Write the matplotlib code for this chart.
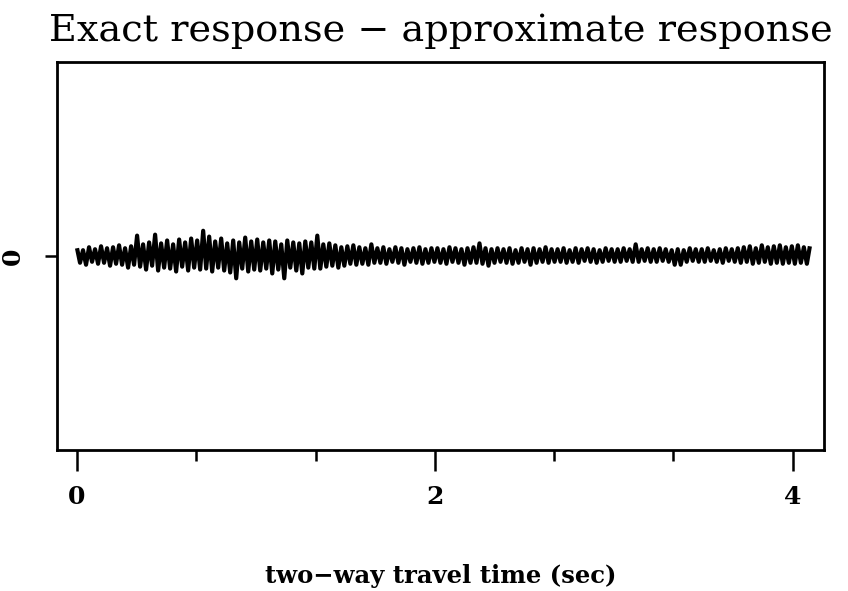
import numpy as np
import matplotlib
matplotlib.use("Agg")
import matplotlib.pyplot as plt
from matplotlib.ticker import MultipleLocator

# residual trace, alternating peaks/troughs, 0 to 4.096 s
residual = [
    0.8, -0.7, 0.6, -0.9, 0.9, -0.6, 0.7, -0.8, 1.0, -0.7, 0.8, -1.0, 0.9, -0.8, 1.1, -0.9, 0.8, -1.2, 1.0, -0.9,
    2.1, -1.1, 1.2, -1.4, 1.4, -1.0, 2.2, -1.5, 1.3, -1.2, 1.6, -1.3, 1.2, -1.6, 1.7, -1.1, 1.4, -1.5, 1.8, -1.2,
    1.6, -1.4, 2.6, -1.3, 2.0, -1.6, 1.5, -1.2, 1.8, -1.5, 1.3, -1.7, 1.6, -2.3, 1.4, -1.3, 1.9, -1.6, 1.5, -1.4,
    1.7, -1.5, 1.4, -1.3, 1.6, -1.8, 1.5, -1.4, 1.2, -2.3, 1.6, -1.2, 1.4, -1.5, 1.3, -1.8, 1.5, -1.2, 1.4, -1.3,
    2.1, -1.3, 1.2, -1.1, 1.3, -1.0, 1.1, -1.2, 0.9, -1.0, 1.0, -0.8, 1.1, -0.9, 0.9, -0.8, 0.8, -0.9, 1.2, -0.7,
    0.8, -0.7, 0.9, -0.8, 0.7, -0.6, 0.9, -0.7, 0.8, -0.9, 0.7, -0.6, 0.8, -0.7, 0.9, -0.8, 0.7, -0.7, 0.8, -0.6,
    0.8, -0.7, 0.7, -0.8, 0.9, -0.6, 0.8, -0.7, 0.7, -0.9, 0.8, -0.7, 0.9, -0.7, 1.3, -0.8, 0.8, -1.0, 0.7, -0.7,
    0.8, -0.6, 0.7, -0.7, 0.8, -0.8, 0.6, -0.7, 0.8, -0.6, 0.7, -0.9, 0.8, -0.7, 0.7, -0.6, 0.9, -0.7, 0.7, -0.6,
    0.7, -0.6, 0.8, -0.7, 0.6, -0.6, 0.8, -0.7, 0.7, -0.5, 0.8, -0.6, 0.7, -0.7, 0.6, -0.6, 0.8, -0.5, 0.7, -0.6,
    0.7, -0.6, 0.8, -0.5, 0.7, -0.6, 1.2, -0.6, 0.7, -0.5, 0.8, -0.6, 0.7, -0.6, 0.8, -0.5, 0.7, -0.6, 0.6, -0.9,
    0.7, -0.9, 0.6, -0.6, 0.8, -0.5, 0.7, -0.6, 0.7, -0.6, 0.8, -0.5, 0.6, -0.6, 0.7, -0.7, 0.8, -0.5, 0.7, -0.6,
    0.8, -0.7, 0.9, -0.6, 1.0, -0.8, 0.8, -0.7, 1.1, -0.6, 0.9, -0.8, 1.0, -0.7, 1.1, -0.8, 0.9, -0.7, 1.0, -0.8,
    1.1, -0.7, 0.9, -0.8, 1.0,
]
t_end = 4.096
times = np.linspace(0, t_end, len(residual))

xticks_major = [0, 2, 4]
title = "Exact response \u2212 approximate response"
xlabel = "two\u2212way travel time (sec)"

fig = plt.figure(figsize=(8.48, 5.91), dpi=100)
ax = fig.add_axes([0.0672, 0.2386, 0.9045, 0.6565])

ax.plot(times, residual, color="black", linewidth=3.0,
        solid_joinstyle="round", solid_capstyle="butt")

ax.set_xlim(-0.112, 4.175)
ax.set_ylim(-20, 20)

ax.xaxis.set_minor_locator(MultipleLocator(2 / 3))
ax.set_xticks(xticks_major)
ax.set_xticklabels([str(v) for v in xticks_major], fontsize=18, fontweight="bold", family="DejaVu Serif")
ax.set_yticks([0])
ax.set_yticklabels(["0"], fontsize=18, fontweight="bold", family="DejaVu Serif", rotation=90, va="center")

ax.tick_params(axis="x", which="major", length=15, width=1.8, pad=10)
ax.tick_params(axis="x", which="minor", length=8, width=1.8)
ax.tick_params(axis="y", which="major", length=9, width=1.8, pad=14)

for s in ax.spines.values():
    s.set_linewidth(2)

ax.set_title(title, fontsize=27.5, family="DejaVu Serif", pad=15)
ax.set_xlabel(xlabel, fontsize=17.5, fontweight="bold", family="DejaVu Serif", labelpad=40)

fig.savefig("out.png", dpi=100)
